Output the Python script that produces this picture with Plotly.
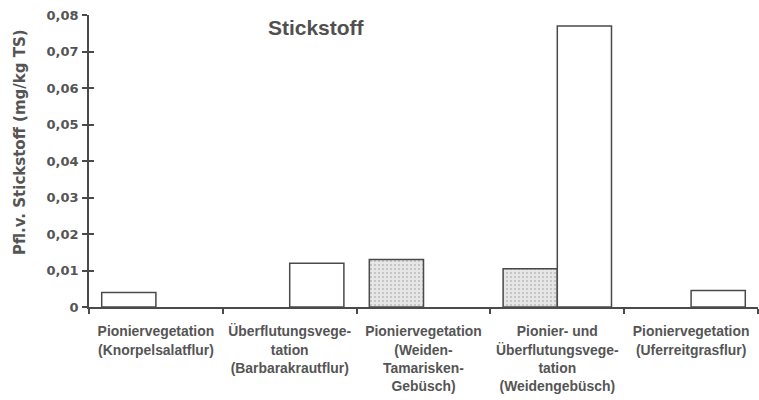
import plotly.graph_objects as go

categories = [
    "Pioniervegetation<br>(Knorpelsalatflur)",
    "Überflutungsvege-<br>tation<br>(Barbarakrautflur)",
    "Pioniervegetation<br>(Weiden-<br>Tamarisken-<br>Gebüsch)",
    "Pionier- und<br>Überflutungsvege-<br>tation<br>(Weidengebüsch)",
    "Pioniervegetation<br>(Uferreitgrasflur)",
]
left_values = [0.004, None, 0.013, 0.0105, None]
right_values = [None, 0.012, None, 0.077, 0.0045]
left_fill = ["white", "#e6e6e6", "#e6e6e6", "#e6e6e6", "white"]
left_pattern = ["", ".", ".", ".", ""]
y_ticks = [0, 0.01, 0.02, 0.03, 0.04, 0.05, 0.06, 0.07, 0.08]
y_ticktext = ["0", "0,01", "0,02", "0,03", "0,04", "0,05", "0,06", "0,07", "0,08"]

txt = "#555555"
line = "#4a4a4a"
lib = "Liberation Sans, Arial, sans-serif"
dv = "DejaVu Sans, sans-serif"

fig = go.Figure()
fig.add_trace(go.Bar(
    x=categories, y=left_values,
    marker=dict(color=left_fill, line=dict(color=line, width=1.5),
                pattern=dict(shape=left_pattern, fgcolor="#cccccc", bgcolor="#ececec", size=4, solidity=0.12)),
    showlegend=False,
))
fig.add_trace(go.Bar(
    x=categories, y=right_values,
    marker=dict(color="white", line=dict(color=line, width=1.5)),
    showlegend=False,
))
# overlay axis to give ticks crossing the y axis line
fig.add_trace(go.Scatter(x=[categories[0]], y=[0], yaxis="y2", mode="markers",
                         marker=dict(opacity=0), showlegend=False, hoverinfo="skip"))

fig.update_layout(
    width=759, height=400,
    margin=dict(l=89, r=1, t=15, b=93),
    paper_bgcolor="white", plot_bgcolor="white",
    barmode="group", bargap=0.19, bargroupgap=0,
    font=dict(family=lib, color=txt, size=13, weight="bold"),
    title=dict(text="Stickstoff", x=0.416, xanchor="center", y=0.93, yanchor="middle",
               font=dict(family=lib, size=21, color="#505050", weight="bold")),
    xaxis=dict(
        automargin=False,
        showline=True, linecolor=line, linewidth=1.5,
        ticks="outside", ticklen=5, tickcolor=line, tickwidth=1.5,
        tickson="boundaries", showgrid=False,
        tickfont=dict(family=lib, size=13.9, color=txt, weight="bold"),
        ticklabelstandoff=11,
    ),
    yaxis=dict(
        automargin=False,
        range=[0, 0.08], tickvals=y_ticks, ticktext=y_ticktext,
        showline=True, linecolor=line, linewidth=1.5,
        ticks="outside", ticklen=5, tickcolor=line, tickwidth=1.5,
        showgrid=False, zeroline=False,
        tickfont=dict(family=dv, size=13, color=txt, weight="bold"),
        ticklabelstandoff=1,
    ),
    yaxis2=dict(
        range=[0, 0.08], tickvals=y_ticks, overlaying="y", side="left",
        showline=False, ticks="inside", ticklen=5, tickcolor=line, tickwidth=1.5,
        showticklabels=False, showgrid=False, zeroline=False,
    ),
    annotations=[dict(
        text="Pfl.v. Stickstoff (mg/kg TS)", textangle=-90,
        xref="paper", yref="paper", x=0, xshift=-69, y=(307 - 142) / 292,
        xanchor="center", yanchor="middle", showarrow=False,
        font=dict(family=dv, size=15, color=txt, weight="bold"),
    )],
)

fig.write_html("out.html", config={"displayModeBar": False},
               post_script="document.body.style.margin='0px';")
